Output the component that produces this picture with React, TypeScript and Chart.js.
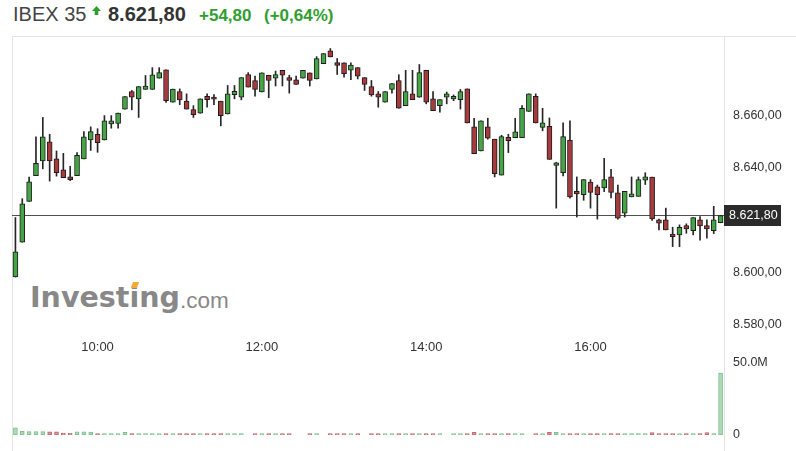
import React, { useEffect, useRef } from "react";
import { Chart, registerables } from "chart.js";

Chart.register(...registerables);

// ---------- DATA ----------
const SESSION_START = "09:00";
const BAR_MINUTES = 5;

const opens = [
  8598.3, 8611.6, 8627.2, 8637.0, 8642.6, 8649.9, 8643.4, 8639.2, 8636.5, 8637.0,
  8643.4, 8650.6, 8652.8, 8650.6, 8656.7, 8656.9, 8662.4, 8669.1, 8666.3, 8669.9,
  8669.9, 8674.2, 8677.4, 8665.0, 8669.1, 8665.4, 8662.2, 8660.8, 8667.3, 8667.0,
  8665.4, 8660.5, 8667.9, 8666.9, 8675.6, 8673.3, 8668.9, 8675.3, 8674.2, 8677.2,
  8674.4, 8673.6, 8674.2, 8676.2, 8673.9, 8679.7, 8684.6, 8680.1, 8680.0, 8677.2,
  8678.2, 8674.4, 8671.0, 8668.2, 8665.0, 8669.9, 8673.3, 8663.7, 8668.2, 8666.9,
  8677.2, 8666.3, 8663.7, 8666.9, 8666.3, 8666.0, 8670.1, 8655.6, 8646.4, 8655.6,
  8650.9, 8637.2, 8651.6, 8651.5, 8651.5, 8661.5, 8667.3, 8655.4, 8655.8, 8640.9,
  8638.1, 8650.6, 8631.0, 8629.7, 8634.5, 8632.7, 8632.3, 8636.5, 8630.4, 8622.7,
  8628.9, 8629.1, 8635.3, 8636.4, 8620.1, 8620.1, 8614.7, 8614.4, 8617.9, 8616.0,
  8620.1, 8617.9, 8616.0, 8619.0,
];

const highs = [
  8621.0, 8628.2, 8636.4, 8651.8, 8659.2, 8652.8, 8646.4, 8645.5, 8640.6, 8645.8,
  8653.8, 8655.6, 8654.9, 8659.9, 8659.9, 8660.9, 8667.2, 8669.5, 8671.0, 8675.2,
  8678.2, 8678.2, 8677.4, 8670.0, 8670.1, 8668.2, 8663.7, 8666.3, 8668.2, 8667.9,
  8665.4, 8671.4, 8671.4, 8674.4, 8676.3, 8675.0, 8676.2, 8675.3, 8676.9, 8677.2,
  8675.3, 8675.0, 8677.2, 8676.2, 8682.4, 8683.6, 8685.5, 8681.7, 8680.0, 8680.0,
  8678.2, 8674.4, 8673.3, 8669.1, 8669.1, 8672.1, 8675.5, 8677.2, 8677.2, 8679.4,
  8677.2, 8669.1, 8666.0, 8668.9, 8667.8, 8669.9, 8670.1, 8658.9, 8657.9, 8658.9,
  8650.9, 8652.4, 8652.8, 8658.9, 8663.7, 8668.2, 8668.2, 8662.7, 8659.0, 8642.1,
  8657.1, 8657.9, 8636.5, 8635.5, 8635.5, 8633.4, 8643.6, 8639.4, 8633.4, 8631.0,
  8636.5, 8636.5, 8638.1, 8636.4, 8620.4, 8624.6, 8617.3, 8618.2, 8618.6, 8621.0,
  8621.4, 8620.1, 8625.3, 8621.8,
];

const lows = [
  8598.3, 8611.6, 8627.2, 8637.0, 8639.6, 8634.9, 8636.8, 8636.2, 8635.1, 8637.0,
  8643.4, 8646.6, 8645.9, 8650.6, 8655.1, 8655.1, 8662.4, 8662.1, 8659.2, 8669.9,
  8669.9, 8674.2, 8664.9, 8665.0, 8664.1, 8662.4, 8659.2, 8660.8, 8663.1, 8664.1,
  8656.0, 8660.5, 8666.3, 8665.9, 8670.8, 8667.3, 8668.9, 8666.7, 8671.2, 8671.2,
  8668.5, 8671.8, 8674.2, 8671.2, 8673.9, 8679.7, 8682.3, 8675.6, 8674.6, 8673.6,
  8673.9, 8669.5, 8667.3, 8663.1, 8665.0, 8668.5, 8662.7, 8663.7, 8666.0, 8666.9,
  8664.4, 8661.8, 8661.2, 8664.4, 8665.6, 8662.4, 8657.1, 8645.4, 8646.4, 8650.9,
  8636.5, 8637.2, 8645.8, 8651.5, 8651.5, 8661.5, 8657.1, 8654.1, 8643.2, 8624.6,
  8636.9, 8628.4, 8621.2, 8627.6, 8624.6, 8620.4, 8630.9, 8628.5, 8620.4, 8621.2,
  8628.9, 8629.1, 8633.6, 8619.9, 8616.3, 8616.3, 8609.9, 8609.9, 8615.0, 8614.4,
  8612.4, 8613.1, 8614.9, 8619.0,
];

const closes = [
  8607.9, 8626.2, 8634.6, 8641.7, 8651.8, 8642.6, 8638.1, 8636.2, 8635.5, 8644.7,
  8651.8, 8653.8, 8649.6, 8657.9, 8657.9, 8660.9, 8667.2, 8666.9, 8671.0, 8671.2,
  8675.5, 8676.3, 8665.6, 8670.0, 8665.9, 8662.4, 8660.3, 8666.3, 8666.0, 8666.2,
  8659.9, 8668.2, 8669.2, 8674.4, 8670.8, 8669.9, 8676.2, 8673.3, 8675.6, 8675.3,
  8673.3, 8671.8, 8677.2, 8673.3, 8681.7, 8683.6, 8682.3, 8679.1, 8675.9, 8679.2,
  8675.0, 8671.8, 8667.8, 8666.9, 8669.1, 8672.1, 8662.7, 8669.1, 8666.0, 8676.3,
  8665.0, 8661.8, 8666.0, 8668.2, 8667.3, 8669.1, 8657.1, 8645.4, 8657.9, 8651.3,
  8637.7, 8651.9, 8650.3, 8653.7, 8662.7, 8668.2, 8657.1, 8657.1, 8643.2, 8641.9,
  8651.9, 8628.9, 8630.0, 8635.5, 8630.6, 8629.7, 8635.5, 8630.6, 8620.8, 8631.0,
  8630.1, 8635.5, 8636.5, 8620.5, 8618.9, 8616.3, 8613.7, 8617.3, 8616.7, 8621.0,
  8617.8, 8616.7, 8620.1, 8621.8,
];

// volume in millions (null = no bar drawn)
const volumes = [
  5.0, 2.6, 2.4, 2.4, 2.4, 2.2, 2.2, 1.2, 1.2, 2.2,
  2.2, 2.0, 1.0, 1.0, 1.0, 1.0, 1.8, 1.0, 1.0, 1.0,
  1.0, 1.0, 1.0, 1.0, 1.0, 1.0, 1.0, 1.0, 1.0, 1.0,
  1.0, 1.0, 1.0, 1.0, null, 1.0, 1.0, 1.0, 1.0, 1.0,
  1.0, null, null, 1.0, 1.0, null, 1.0, 1.0, 1.0, 1.0,
  1.0, null, 1.0, 1.0, 1.0, 1.0, 1.0, 1.0, 1.0, 1.0,
  1.0, 1.0, 1.0, null, 1.0, 1.0, 1.0, 1.8, 1.0, 1.0,
  1.0, 1.0, 1.0, 1.0, 1.0, null, 1.0, 1.0, 1.8, 1.8,
  1.0, 1.0, 1.0, 1.0, 1.0, 1.0, 1.0, 1.0, 1.0, 1.0,
  1.0, 1.0, 1.0, 1.6, 1.0, 1.0, 1.0, 1.0, 1.0, 1.0,
  1.0, 1.6, 1.0, 43.0,
];

const priceTicks = [8580, 8600, 8640, 8660];
const volumeTicks = [0, 50];
const timeTickLabels = ["10:00", "12:00", "14:00", "16:00"];

const LAST_PRICE = 8621.8;
const INSTRUMENT = "IBEX 35";
const LAST_TEXT = "8.621,80";
const CHANGE_TEXT = "+54,80";
const CHANGE_PCT_TEXT = "(+0,64%)";

const PRICE_MIN = 8575.8;
const PRICE_MAX = 8689.9;
const VOLUME_MAX = 53.47;

// ---------- helpers ----------
const FONT = "Arial, 'Liberation Sans', Helvetica, sans-serif";
const GREEN_BODY = "#45a445";
const RED_BODY = "#a63a3d";
const GREEN_VOL = "#a9dbb5";
const GREEN_VOL_B = "#7dbf8f";
const RED_VOL = "#d99597";
const RED_VOL_B = "#bf6a6d";

function toMin(t: string) {
  const [h, m] = t.split(":").map(Number);
  return h * 60 + m;
}
function fmtTime(min: number) {
  const h = Math.floor(min / 60);
  const m = min % 60;
  return String(h).padStart(2, "0") + ":" + String(m).padStart(2, "0");
}
const timeLabels = opens.map((_, i) => fmtTime(toMin(SESSION_START) + i * BAR_MINUTES));
const timeTickIdx = timeTickLabels.map((t) => timeLabels.indexOf(t));

function fmtPrice(v: number) {
  const [int, dec] = v.toFixed(2).split(".");
  const withDots = int.replace(/\B(?=(\d{3})+(?!\d))/g, ".");
  return withDots + "," + dec;
}

const isUp = opens.map((o, i) => closes[i] >= o);

const lastPricePlugin = {
  id: "lastPrice",
  beforeDatasetsDraw(chart: any) {
    const { ctx, chartArea, scales } = chart;
    const y = Math.round(scales.y.getPixelForValue(LAST_PRICE)) + 0.5;
    ctx.save();
    ctx.strokeStyle = "#505050";
    ctx.lineWidth = 1;
    ctx.beginPath();
    ctx.moveTo(chartArea.left, y);
    ctx.lineTo(chartArea.right, y);
    ctx.stroke();
    ctx.restore();
  },
  afterDraw(chart: any) {
    const { ctx, chartArea, scales } = chart;
    const y = Math.round(scales.y.getPixelForValue(LAST_PRICE));
    ctx.save();
    ctx.fillStyle = "#2b2b2b";
    ctx.fillRect(chartArea.right, y - 10, 57, 21);
    ctx.fillStyle = "#ffffff";
    ctx.font = `12.5px ${FONT}`;
    ctx.textBaseline = "middle";
    ctx.textAlign = "left";
    ctx.fillText(fmtPrice(LAST_PRICE), chartArea.right + 5, y + 1);
    ctx.restore();
  },
};

export default function App() {
  const priceRef = useRef<HTMLCanvasElement>(null);
  const volRef = useRef<HTMLCanvasElement>(null);

  useEffect(() => {
    Chart.defaults.font.family = FONT;
    const price = new Chart(priceRef.current as HTMLCanvasElement, {
      type: "bar",
      data: {
        labels: timeLabels,
        datasets: [
          {
            label: "wick",
            data: lows.map((l, i) => [l, highs[i]]) as any,
            backgroundColor: "#262626",
            borderWidth: 0,
            barThickness: 1,
            grouped: false,
            order: 2,
          } as any,
          {
            label: "body",
            data: opens.map((o, i) => [o, closes[i]]) as any,
            backgroundColor: isUp.map((u) => (u ? GREEN_BODY : RED_BODY)),
            borderColor: "#1c1c1c",
            borderWidth: 1,
            borderSkipped: false,
            barThickness: 5,
            minBarLength: 2,
            grouped: false,
            order: 1,
          } as any,
        ],
      },
      options: {
        animation: false,
        responsive: false,
        maintainAspectRatio: false,
        layout: { padding: 0 },
        plugins: { legend: { display: false }, tooltip: { enabled: false } },
        scales: {
          x: {
            grid: { display: false, drawTicks: false },
            border: { display: false },
            afterBuildTicks: (s: any) => {
              s.ticks = timeTickIdx.map((v) => ({ value: v }));
            },
            afterFit: (s: any) => {
              s.height = 22;
              s.paddingLeft = 0;
              s.paddingRight = 0;
            },
            ticks: {
              autoSkip: false,
              maxRotation: 0,
              padding: 4,
              color: "#333",
              font: { size: 13 },
              callback: (v: any) => timeLabels[v],
            },
          },
          y: {
            position: "right",
            min: PRICE_MIN,
            max: PRICE_MAX,
            grid: { display: false, drawTicks: false },
            border: { display: false },
            afterBuildTicks: (s: any) => {
              s.ticks = priceTicks.map((v) => ({ value: v }));
            },
            afterFit: (s: any) => {
              s.width = 72;
              s.paddingTop = 0;
              s.paddingBottom = 0;
            },
            ticks: {
              padding: 9,
              color: "#333",
              font: { size: 12.5 },
              callback: (v: any) => fmtPrice(Number(v)),
            },
          },
        },
      } as any,
      plugins: [lastPricePlugin],
    });

    const vol = new Chart(volRef.current as HTMLCanvasElement, {
      type: "bar",
      data: {
        labels: timeLabels,
        datasets: [
          {
            label: "volume",
            data: volumes as any,
            backgroundColor: isUp.map((u) => (u ? GREEN_VOL : RED_VOL)),
            borderColor: isUp.map((u) => (u ? GREEN_VOL_B : RED_VOL_B)),
            borderWidth: 1,
            borderSkipped: false,
            barThickness: 4,
          } as any,
        ],
      },
      options: {
        animation: false,
        responsive: false,
        maintainAspectRatio: false,
        layout: { padding: { top: 13, bottom: 16, left: 0, right: 0 } },
        plugins: { legend: { display: false }, tooltip: { enabled: false } },
        scales: {
          x: { display: false },
          y: {
            position: "right",
            min: 0,
            max: VOLUME_MAX,
            grid: { display: false, drawTicks: false },
            border: { display: false },
            afterBuildTicks: (s: any) => {
              s.ticks = volumeTicks.map((v) => ({ value: v }));
            },
            afterFit: (s: any) => {
              s.width = 72;
              s.paddingTop = 0;
              s.paddingBottom = 0;
            },
            ticks: {
              padding: 9,
              color: "#333",
              font: { size: 12.5 },
              callback: (v: any) => (Number(v) === 0 ? "0" : Number(v).toFixed(1) + "M"),
            },
          },
        },
      } as any,
    });

    return () => {
      price.destroy();
      vol.destroy();
    };
  }, []);

  const abs = (o: React.CSSProperties): React.CSSProperties => ({ position: "absolute", ...o });

  return (
    <div style={abs({ left: 0, top: 0, width: 796, height: 451, background: "#fff", overflow: "hidden", fontFamily: FONT })}>
      {/* header */}
      <span style={abs({ left: 13, top: 4.4, fontSize: 20, lineHeight: "20px", color: "#444", whiteSpace: "nowrap" })}>{INSTRUMENT}</span>
      <svg style={abs({ left: 92, top: 6 })} width="9" height="9" viewBox="0 0 10 10">
        <path d="M5 0 L10 5.5 L7 5.5 L7 10 L3 10 L3 5.5 L0 5.5 Z" fill="#2f9e2f" />
      </svg>
      <span style={abs({ left: 108, top: 4.4, fontSize: 20, lineHeight: "20px", fontWeight: "bold", color: "#333", whiteSpace: "nowrap" })}>{LAST_TEXT}</span>
      <span style={abs({ left: 199, top: 6.5, fontSize: 17, lineHeight: "17px", fontWeight: "bold", color: "#2f9e2f", whiteSpace: "nowrap" })}>{CHANGE_TEXT}</span>
      <span style={abs({ left: 264, top: 6.5, fontSize: 17, lineHeight: "17px", fontWeight: "bold", color: "#2f9e2f", whiteSpace: "nowrap" })}>{CHANGE_PCT_TEXT}</span>

      {/* frame */}
      <div style={abs({ left: 12, top: 36, width: 784, height: 1, background: "#e4e4e4" })} />
      <div style={abs({ left: 12, top: 36, width: 1, height: 415, background: "#e4e4e4" })} />
      <div style={abs({ left: 724, top: 36, width: 1, height: 415, background: "#e4e4e4" })} />

      {/* watermark */}
      <span style={abs({ left: 30, top: 284.3, fontFamily: "'DejaVu Sans', sans-serif", fontWeight: "bold", fontSize: 28.5, lineHeight: "28px", color: "#888", whiteSpace: "nowrap" })}>Investing</span>
      <span style={abs({ left: 180, top: 289.7, fontFamily: FONT, fontSize: 22.5, lineHeight: "22px", color: "#888", whiteSpace: "nowrap" })}>.com</span>
      <div style={abs({ left: 132, top: 282, width: 6, height: 6, background: "#f5a93c", transform: "skewX(-20deg)" })} />

      {/* charts */}
      <canvas ref={priceRef} width={784} height={321} style={abs({ left: 12, top: 37, width: 784, height: 321 })} />
      <canvas ref={volRef} width={784} height={106} style={abs({ left: 12, top: 345, width: 784, height: 106 })} />
    </div>
  );
}
